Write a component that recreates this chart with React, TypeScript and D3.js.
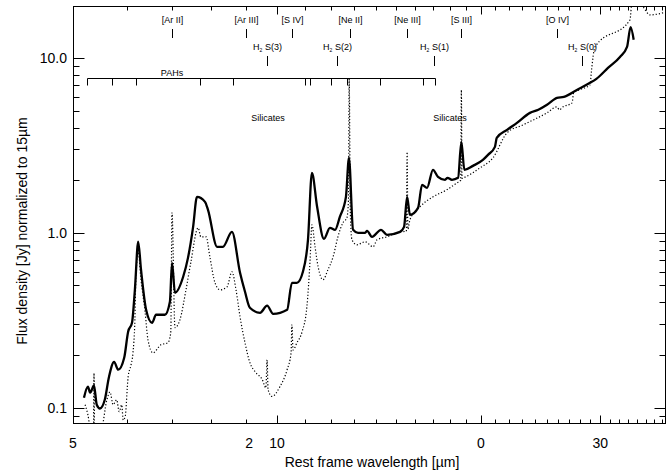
import React, { useEffect, useRef } from 'react';
import * as d3 from 'd3';

// solid spectrum (thick line)
const solidWave = [5.19, 5.26, 5.30, 5.37, 5.42, 5.48, 5.57, 5.65, 5.75, 5.83, 5.95, 6.03, 6.11, 6.17, 6.24, 6.30, 6.41, 6.54, 6.63, 6.83, 6.95, 7.00, 7.07, 7.27, 7.39, 7.52, 7.62, 7.83, 7.91, 8.16, 8.32, 8.58, 8.82, 8.97, 9.12, 9.44, 9.67, 9.87, 10.35, 10.52, 10.70, 10.92, 11.11, 11.26, 11.46, 11.73, 11.97, 12.18, 12.38, 12.64, 12.77, 12.95, 13.17, 13.49, 13.58, 13.81, 14.24, 14.53, 15.19, 15.40, 15.56, 15.71, 16.15, 16.37, 16.65, 16.99, 17.28, 17.70, 17.85, 18.12, 18.50, 18.71, 18.90, 19.46, 20.13, 20.48, 20.97, 21.10, 21.85, 22.6, 23.62, 24.3, 25.03, 25.89, 26.5, 27.7, 28.97, 29.6, 30.79, 32.07, 32.85, 33.25, 33.6];
const solidFlux = [0.114, 0.132, 0.122, 0.134, 0.104, 0.099, 0.111, 0.150, 0.183, 0.165, 0.193, 0.272, 0.306, 0.472, 0.889, 0.615, 0.363, 0.306, 0.340, 0.340, 0.404, 0.674, 0.454, 0.561, 0.719, 1.082, 1.606, 1.503, 1.353, 0.832, 0.832, 1.013, 0.591, 0.460, 0.373, 0.349, 0.383, 0.344, 0.363, 0.518, 0.518, 0.599, 0.912, 2.20, 1.408, 0.924, 1.068, 1.040, 1.234, 1.606, 2.683, 1.040, 1.0, 1.0, 1.026, 0.949, 1.040, 0.974, 1.013, 1.082, 1.606, 1.267, 1.389, 1.881, 1.807, 2.291, 2.089, 2.009, 2.062, 2.009, 2.062, 3.311, 2.291, 2.414, 2.613, 2.791, 3.100, 3.49, 3.878, 4.25, 4.85, 5.05, 5.39, 5.91, 5.99, 6.56, 7.20, 7.59, 8.77, 10.13, 11.56, 15.0, 12.7];

// dotted spectrum (thin line)
const dotWave = [5.21, 5.26, 5.31, 5.36, 5.37, 5.38, 5.50, 5.61, 5.67, 5.73, 5.80, 5.85, 5.90, 5.93, 5.97, 6.03, 6.09, 6.13, 6.17, 6.19, 6.24, 6.30, 6.39, 6.45, 6.56, 6.74, 6.90, 6.97, 7.00, 7.07, 7.19, 7.34, 7.46, 7.65, 7.72, 7.86, 7.96, 8.10, 8.24, 8.44, 8.58, 8.70, 8.82, 8.97, 9.12, 9.28, 9.51, 9.63, 9.67, 9.70, 9.83, 10.10, 10.35, 10.49, 10.52, 10.56, 10.70, 10.89, 11.07, 11.19, 11.26, 11.38, 11.50, 11.69, 11.89, 12.10, 12.30, 12.51, 12.68, 12.75, 12.78, 12.83, 12.90, 13.12, 13.49, 13.86, 14.05, 14.53, 15.19, 15.52, 15.56, 15.60, 15.71, 16.25, 16.99, 17.80, 18.43, 18.67, 18.71, 18.75, 18.83, 19.93, 20.83, 21.85, 23.07, 25.03, 25.89, 26.1, 26.43, 27.25, 27.4, 27.9, 28.97, 29.1, 29.46, 33.18, 33.4, 34.0, 34.68, 35.5, 37.5];
const dotFlux = [0.104, 0.091, 0.075, 0.075, 0.158, 0.075, 0.075, 0.111, 0.123, 0.104, 0.111, 0.095, 0.104, 0.085, 0.089, 0.150, 0.176, 0.206, 0.318, 0.539, 0.779, 0.539, 0.349, 0.245, 0.206, 0.229, 0.235, 0.268, 1.30, 0.287, 0.318, 0.472, 0.674, 1.068, 0.949, 0.949, 0.729, 0.518, 0.472, 0.491, 0.599, 0.472, 0.331, 0.235, 0.181, 0.161, 0.145, 0.130, 0.188, 0.127, 0.116, 0.132, 0.165, 0.206, 0.298, 0.214, 0.235, 0.272, 0.378, 0.701, 1.111, 0.832, 0.639, 0.539, 0.615, 0.729, 0.949, 1.141, 1.218, 1.544, 7.6, 1.3, 0.912, 0.854, 0.889, 0.832, 0.912, 0.949, 1.013, 1.02, 2.90, 1.05, 1.187, 1.408, 1.606, 1.76, 1.93, 2.0, 6.56, 2.05, 2.062, 2.35, 2.683, 3.73, 4.14, 4.85, 5.25, 5.05, 5.25, 5.53, 6.31, 6.56, 7.01, 8.32, 11.56, 16.5, 20.6, 21.0, 19.6, 17.6, 18.3];

const lineNames = ['[Ar II]', '[Ar III]', '[S IV]', '[Ne II]', '[Ne III]', '[S III]', '[O IV]'];
const lineWaves = [6.99, 8.99, 10.51, 12.81, 15.56, 18.71, 25.89];
const h2Names = ['S(3)', 'S(2)', 'S(1)', 'S(0)'];
const h2Waves = [9.66, 12.28, 17.03, 28.22];
const pahWaves = [5.25, 5.7, 6.2, 7.7, 8.6, 11.0, 11.2, 12.0, 12.7, 14.2, 16.4, 17.1];
const silicateWaves = [9.7, 18.0];

const xTickLabels = ['5', '2', '10', '0', '30'];
const xTickLabelPos = [5, 9.1, 10, 20, 30];
const yTickValues = [0.1, 1, 10];
const yTickLabels = ['0.1', '1.0', '10.0'];

const W = 666;
const H = 472;
const FONT = '"Liberation Sans", Arial, Helvetica, sans-serif';

const App = () => {
  const ref = useRef(null);

  useEffect(() => {
    const svg = d3.select(ref.current);
    svg.selectAll('*').remove();

    const left = 73.5, right = 665.5, top = 6.5, bottom = 423.5;
    const x = d3.scaleLog().domain([5, 37.5]).range([73, 666]);
    const y = d3.scaleLog().domain([0.0818, 19.8]).range([423, 6]);

    svg.append('defs').append('clipPath').attr('id', 'plotclip')
      .append('rect').attr('x', left).attr('y', top)
      .attr('width', right - left).attr('height', bottom - top);

    const g = svg.append('g');

    // frame
    g.append('rect').attr('x', left).attr('y', top)
      .attr('width', right - left).attr('height', bottom - top)
      .attr('fill', 'none').attr('stroke', '#000').attr('stroke-width', 1);

    // x ticks (every micron)
    const xt = d3.range(5, 38);
    xt.forEach(v => {
      const px = Math.round(x(v)) + 0.5;
      const major = v % 10 === 0;
      const len = major ? 8 : 4;
      g.append('line').attr('x1', px).attr('x2', px)
        .attr('y1', bottom).attr('y2', bottom - len).attr('stroke', '#000');
      g.append('line').attr('x1', px).attr('x2', px)
        .attr('y1', top).attr('y2', top + len).attr('stroke', '#000');
    });

    // y ticks
    const yt = [];
    [0.01, 0.1, 1, 10].forEach(dec => {
      for (let k = 1; k < 10; k++) {
        const v = dec * k;
        if (v >= 0.0818 && v <= 19.8) yt.push({ v, major: k === 1 });
      }
    });
    yt.forEach(t => {
      const py = Math.round(y(t.v)) + 0.5;
      const len = t.major ? 11 : 6;
      g.append('line').attr('x1', left).attr('x2', left + len)
        .attr('y1', py).attr('y2', py).attr('stroke', '#000');
      g.append('line').attr('x1', right).attr('x2', right - len)
        .attr('y1', py).attr('y2', py).attr('stroke', '#000');
    });

    // tick labels
    xTickLabels.forEach((t, i) => {
      g.append('text').attr('x', x(xTickLabelPos[i])).attr('y', 448)
        .attr('text-anchor', 'middle').attr('font-family', FONT)
        .attr('font-size', 14).text(t);
    });
    yTickLabels.forEach((t, i) => {
      g.append('text').attr('x', 67).attr('y', y(yTickValues[i]) + 5)
        .attr('text-anchor', 'end').attr('font-family', FONT)
        .attr('font-size', 14).text(t);
    });

    // axis titles
    g.append('text').attr('x', 372).attr('y', 467)
      .attr('text-anchor', 'middle').attr('font-family', FONT)
      .attr('font-size', 14).text('Rest frame wavelength [µm]');
    g.append('text').attr('transform', 'translate(27,231) rotate(-90)')
      .attr('text-anchor', 'middle').attr('font-family', FONT)
      .attr('font-size', 14).text('Flux density [Jy] normalized to 15µm');

    // spectra
    const line = d3.line()
      .x(d => x(d[0]))
      .y(d => y(d[1]))
      .curve(d3.curveMonotoneX);

    const plot = g.append('g').attr('clip-path', 'url(#plotclip)');
    plot.append('path')
      .attr('d', line(dotWave.map((w, i) => [w, dotFlux[i]])))
      .attr('fill', 'none').attr('stroke', '#000')
      .attr('stroke-width', 1.2).attr('stroke-dasharray', '1.2 2');
    plot.append('path')
      .attr('d', line(solidWave.map((w, i) => [w, solidFlux[i]])))
      .attr('fill', 'none').attr('stroke', '#000')
      .attr('stroke-width', 2.3).attr('stroke-linejoin', 'round');

    // fine structure lines
    lineNames.forEach((n, i) => {
      const px = Math.round(x(lineWaves[i])) + 0.5;
      g.append('text').attr('x', px).attr('y', 23)
        .attr('text-anchor', 'middle').attr('font-family', FONT)
        .attr('font-size', 9).text(n);
      g.append('line').attr('x1', px).attr('x2', px)
        .attr('y1', 29).attr('y2', 38).attr('stroke', '#000');
    });

    // H2 lines
    h2Names.forEach((n, i) => {
      const px = Math.round(x(h2Waves[i])) + 0.5;
      const t = g.append('text').attr('x', px).attr('y', 50)
        .attr('text-anchor', 'middle').attr('font-family', FONT)
        .attr('font-size', 9);
      t.append('tspan').text('H');
      t.append('tspan').attr('font-size', 5).attr('dy', 1.5).text('2');
      t.append('tspan').attr('dy', -1.5).text(' ' + n);
      g.append('line').attr('x1', px).attr('x2', px)
        .attr('y1', 56).attr('y2', 66).attr('stroke', '#000');
    });

    // PAH bracket
    const py0 = 78.5;
    g.append('line').attr('x1', Math.round(x(pahWaves[0])) + 0.5)
      .attr('x2', Math.round(x(pahWaves[pahWaves.length - 1])) + 0.5)
      .attr('y1', py0).attr('y2', py0).attr('stroke', '#000');
    pahWaves.forEach(w => {
      const px = Math.round(x(w)) + 0.5;
      g.append('line').attr('x1', px).attr('x2', px)
        .attr('y1', py0).attr('y2', py0 + 7).attr('stroke', '#000');
    });
    g.append('text').attr('x', x(7.0)).attr('y', 76)
      .attr('text-anchor', 'middle').attr('font-family', FONT)
      .attr('font-size', 9).text('PAHs');

    silicateWaves.forEach(w => {
      g.append('text').attr('x', x(w)).attr('y', 121)
        .attr('text-anchor', 'middle').attr('font-family', FONT)
        .attr('font-size', 9).text('Silicates');
    });
  }, []);

  return (
    <svg ref={ref} width={W} height={H} style={{ position: 'absolute', left: 0, top: 0, background: '#fff' }}></svg>
  );
};

export default App;
